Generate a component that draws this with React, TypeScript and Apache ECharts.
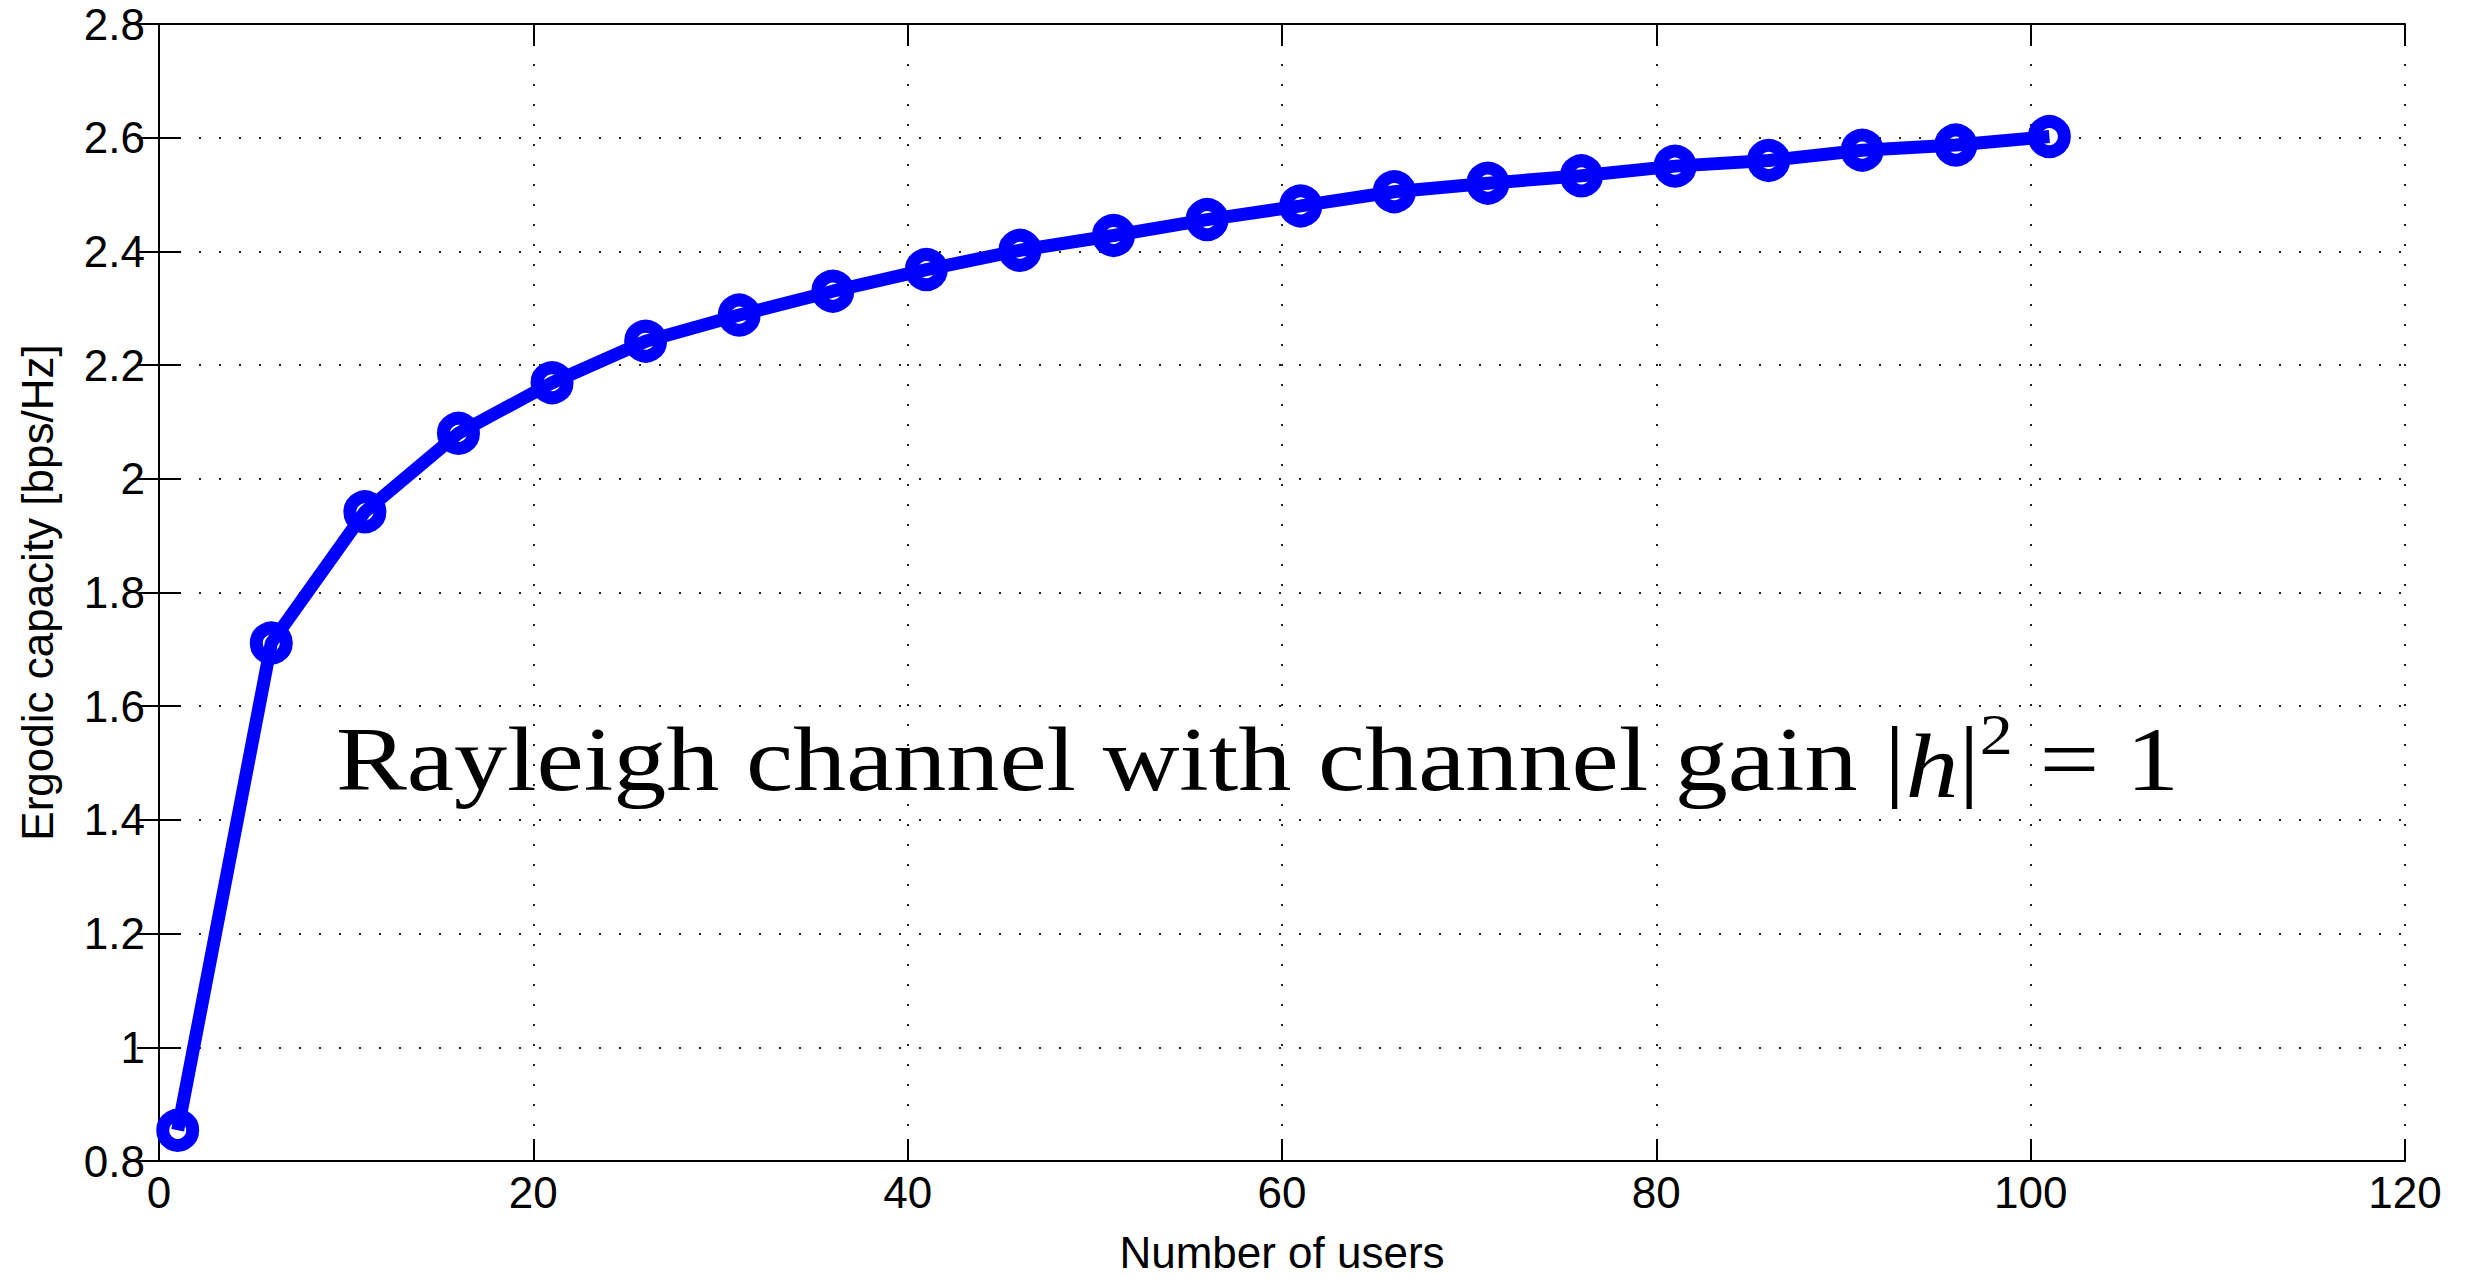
import React, { useEffect, useRef } from "react";
import * as echarts from "echarts";

const users = [1, 6, 11, 16, 21, 26, 31, 36, 41, 46, 51, 56, 61, 66, 71, 76, 81, 86, 91, 96, 101];
const capacity = [
  0.854, 1.711, 1.942, 2.08, 2.169, 2.242, 2.288, 2.33, 2.368, 2.402, 2.428,
  2.456, 2.48, 2.505, 2.52, 2.533, 2.55, 2.56, 2.578, 2.587, 2.602,
];
const xTicks = [0, 20, 40, 60, 80, 100, 120];
const yTicks = [0.8, 1, 1.2, 1.4, 1.6, 1.8, 2, 2.2, 2.4, 2.6, 2.8];
const xName = "Number of users";
const yName = "Ergodic capacity [bps/Hz]";
const annotation = "Rayleigh channel with channel gain |{i|h}|{sup|2} = 1";

const SANS = "'Liberation Sans', Arial, Helvetica, sans-serif";
const SERIF = "'Liberation Serif', 'Times New Roman', serif";

export default function App() {
  const ref = useRef<HTMLDivElement>(null);
  useEffect(() => {
    if (!ref.current) return;
    const chart = echarts.init(ref.current, null, { renderer: "svg" });
    const axisLine = { show: true, lineStyle: { color: "#000", width: 2 } };
    const axisTick = { show: true, inside: true, length: 22, lineStyle: { color: "#000", width: 2 } };
    const split = { show: true, lineStyle: { color: "#222", width: 2, type: [2, 18] } };
    const xMin = xTicks[0], xMax = xTicks[xTicks.length - 1];
    const yMin = yTicks[0], yMax = yTicks[yTicks.length - 1];
    const xInt = xTicks[1] - xTicks[0];
    const yInt = 0.2;
    chart.setOption({
      animation: false,
      backgroundColor: "#fff",
      grid: { left: 159, right: 71, top: 24, bottom: 115, containLabel: false },
      xAxis: [
        {
          type: "value", min: xMin, max: xMax, interval: xInt, position: "bottom",
          name: xName, nameLocation: "middle", nameGap: 69,
          nameTextStyle: { fontFamily: SANS, fontSize: 44, color: "#000" },
          axisLine, axisTick,
          axisLabel: { margin: 9, fontFamily: SANS, fontSize: 44, color: "#000" },
          splitLine: split,
        },
        {
          type: "value", min: xMin, max: xMax, interval: xInt, position: "top",
          axisLine, axisTick, axisLabel: { show: false }, splitLine: { show: false },
        },
      ],
      yAxis: [
        {
          type: "value", min: yMin, max: yMax, interval: yInt, position: "left",
          name: yName, nameLocation: "middle", nameGap: 100, nameRotate: 90,
          nameTextStyle: { fontFamily: SANS, fontSize: 44, color: "#000" },
          axisLine, axisTick,
          axisLabel: {
            margin: 14, fontFamily: SANS, fontSize: 44, color: "#000",
            formatter: (v: number) => String(Number(v.toFixed(1))),
          },
          splitLine: split,
        },
        {
          type: "value", min: yMin, max: yMax, interval: yInt, position: "right",
          axisLine, axisTick, axisLabel: { show: false }, splitLine: { show: false },
        },
      ],
      series: [
        {
          type: "line",
          xAxisIndex: 0,
          yAxisIndex: 0,
          data: users.map((u, i) => [u, capacity[i]]),
          symbol: "circle",
          symbolSize: 30,
          showAllSymbol: true,
          lineStyle: { color: "#0000ff", width: 13 },
          itemStyle: { color: "rgba(255,255,255,0)", borderColor: "#0000ff", borderWidth: 13 },
          z: 5,
        },
      ],
      graphic: [
        {
          type: "text",
          x: 336,
          y: 707,
          scaleX: 1.18,
          z: 10,
          style: {
            text: annotation,
            fontFamily: SERIF,
            fontSize: 90,
            fill: "#000",
            align: "left",
            verticalAlign: "top",
            rich: {
              i: { fontFamily: SERIF, fontSize: 90, fontStyle: "italic", verticalAlign: "bottom" },
              sup: { fontFamily: SERIF, fontSize: 56, verticalAlign: "bottom", padding: [0, 0, 48, 0] },
            },
          },
        },
      ],
    });
    return () => chart.dispose();
  }, []);
  return (
    <div
      ref={ref}
      style={{ position: "absolute", left: 0, top: 0, width: 2476, height: 1279, background: "#fff" }}
    />
  );
}
